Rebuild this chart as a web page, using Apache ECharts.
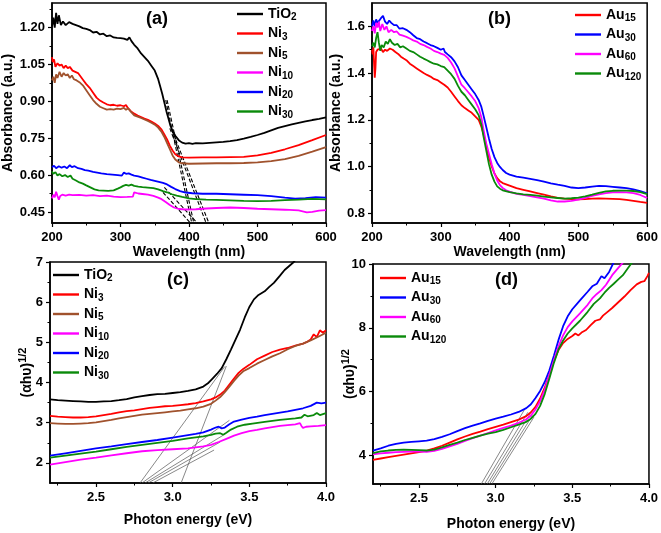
<!DOCTYPE html>
<html><head><meta charset="utf-8">
<script src="https://cdn.jsdelivr.net/npm/echarts@6/dist/echarts.min.js"></script>
<style>html,body{margin:0;padding:0;background:#fff}#c{width:661px;height:533px}</style>
</head><body><div id="c"></div>
<script>
// ---------- Panel (a): absorbance vs wavelength (Ni series) ----------
const aTiO2 = [[200,1.205],[202,1.24],[204,1.20],[206,1.26],[208,1.215],[210,1.25],[213,1.21],[216,1.225],[220,1.21],[225,1.222],[230,1.215],[235,1.21],[240,1.205],[245,1.198],[250,1.195],[255,1.19],[260,1.18],[265,1.183],[270,1.172],[275,1.175],[280,1.165],[285,1.168],[290,1.16],[295,1.158],[300,1.157],[305,1.155],[310,1.15],[313,1.16],[316,1.145],[320,1.13],[325,1.115],[330,1.095],[335,1.08],[340,1.065],[345,1.045],[350,1.025],[355,0.99],[358,0.96],[361,0.93],[364,0.895],[367,0.86],[370,0.83],[373,0.80],[376,0.78],[380,0.76],[385,0.742],[390,0.732],[395,0.728],[400,0.73],[405,0.727],[410,0.73],[420,0.729],[430,0.731],[440,0.733],[450,0.735],[460,0.738],[470,0.742],[480,0.748],[490,0.755],[500,0.763],[510,0.772],[520,0.782],[530,0.792],[540,0.799],[550,0.806],[560,0.812],[570,0.818],[580,0.824],[590,0.829],[600,0.835]];
const aNi3 = [[200,1.08],[201,1.06],[203,1.07],[205,1.04],[208,1.055],[211,1.045],[214,1.05],[217,1.035],[220,1.045],[223,1.035],[226,1.04],[230,1.025],[234,1.02],[238,1.015],[242,1.0],[246,0.985],[250,0.97],[255,0.955],[260,0.935],[265,0.915],[270,0.903],[275,0.895],[280,0.888],[285,0.884],[290,0.886],[295,0.882],[300,0.884],[305,0.88],[308,0.885],[311,0.872],[315,0.86],[320,0.85],[325,0.842],[330,0.836],[335,0.83],[340,0.825],[345,0.818],[350,0.81],[355,0.80],[360,0.785],[364,0.765],[368,0.745],[372,0.72],[376,0.70],[380,0.685],[385,0.676],[390,0.672],[400,0.671],[420,0.672],[440,0.672],[460,0.673],[480,0.674],[500,0.68],[520,0.69],[540,0.705],[560,0.722],[580,0.742],[600,0.763]];
const aNi5 = [[200,0.985],[202,1.0],[204,0.975],[206,1.01],[208,0.995],[211,1.02],[214,1.0],[217,1.015],[220,1.005],[223,1.01],[226,0.995],[229,1.005],[232,0.99],[236,0.985],[240,0.978],[245,0.965],[250,0.945],[255,0.925],[260,0.905],[265,0.89],[270,0.878],[275,0.872],[280,0.866],[285,0.868],[290,0.866],[295,0.87],[300,0.868],[305,0.873],[308,0.865],[311,0.872],[315,0.858],[320,0.843],[325,0.838],[330,0.832],[335,0.826],[340,0.82],[345,0.813],[350,0.805],[355,0.793],[360,0.775],[364,0.755],[368,0.73],[372,0.705],[376,0.68],[380,0.663],[385,0.652],[390,0.648],[400,0.646],[420,0.647],[440,0.648],[460,0.648],[480,0.649],[500,0.652],[520,0.657],[540,0.665],[560,0.678],[580,0.695],[600,0.714]];
const aNi10 = [[200,0.505],[202,0.52],[204,0.51],[206,0.532],[208,0.515],[210,0.50],[212,0.515],[215,0.52],[220,0.516],[225,0.52],[230,0.518],[240,0.519],[250,0.516],[260,0.518],[270,0.514],[280,0.516],[290,0.512],[300,0.51],[310,0.511],[318,0.512],[320,0.53],[322,0.522],[326,0.525],[332,0.523],[340,0.52],[348,0.515],[355,0.508],[360,0.502],[366,0.49],[372,0.478],[378,0.468],[385,0.462],[395,0.46],[410,0.461],[425,0.464],[440,0.466],[460,0.468],[480,0.466],[500,0.463],[520,0.461],[540,0.459],[560,0.456],[572,0.448],[580,0.45],[590,0.455],[600,0.457]];
const aNi20 = [[200,0.632],[203,0.638],[206,0.628],[210,0.636],[214,0.63],[218,0.635],[222,0.628],[226,0.64],[229,0.632],[233,0.636],[238,0.628],[243,0.625],[248,0.62],[253,0.618],[260,0.613],[266,0.61],[272,0.607],[280,0.604],[288,0.602],[296,0.600],[302,0.598],[305,0.61],[308,0.605],[312,0.607],[316,0.602],[320,0.598],[326,0.595],[332,0.59],[338,0.585],[344,0.58],[350,0.576],[356,0.572],[362,0.568],[368,0.562],[374,0.552],[380,0.543],[387,0.535],[395,0.529],[405,0.526],[420,0.524],[440,0.524],[460,0.522],[480,0.52],[500,0.518],[520,0.514],[540,0.508],[555,0.504],[570,0.506],[585,0.51],[600,0.508]];
const aNi30 = [[200,0.615],[202,0.605],[205,0.612],[208,0.598],[211,0.604],[215,0.595],[219,0.60],[223,0.592],[227,0.598],[230,0.585],[235,0.578],[240,0.57],[245,0.565],[250,0.558],[256,0.55],[262,0.542],[268,0.538],[275,0.537],[282,0.536],[290,0.538],[296,0.545],[300,0.55],[304,0.556],[308,0.56],[312,0.557],[316,0.561],[320,0.556],[326,0.553],[332,0.551],[340,0.549],[348,0.547],[355,0.542],[362,0.535],[368,0.53],[375,0.522],[382,0.516],[390,0.511],[400,0.505],[410,0.502],[425,0.5],[440,0.499],[460,0.497],[480,0.495],[500,0.494],[520,0.495],[540,0.498],[560,0.5],[580,0.503],[600,0.501]];
const aTangents = [[[366,0.905],[404,0.405]],[[368,0.905],[407,0.405]],[[372,0.79],[425,0.405]],[[374,0.79],[429,0.405]],[[362,0.53],[402,0.405]],[[364,0.55],[412,0.405]]];
const aXTicks = [200,300,400,500,600];
const aYTicks = [0.45,0.60,0.75,0.90,1.05,1.20];

// ---------- Panel (b): absorbance vs wavelength (Au series) ----------
const bAu15 = [[200,1.50],[201,1.48],[202,1.51],[203,1.44],[204,1.38],[205,1.42],[206,1.49],[208,1.50],[210,1.495],[213,1.505],[216,1.49],[219,1.50],[222,1.495],[226,1.505],[230,1.50],[234,1.49],[238,1.482],[242,1.47],[246,1.462],[250,1.455],[255,1.44],[260,1.43],[265,1.42],[270,1.41],[275,1.4],[280,1.392],[285,1.385],[290,1.375],[295,1.37],[300,1.36],[305,1.35],[310,1.338],[315,1.32],[320,1.3],[325,1.28],[330,1.262],[335,1.25],[340,1.24],[345,1.23],[350,1.215],[355,1.2],[359,1.17],[362,1.14],[366,1.09],[370,1.04],[374,1.0],[378,0.97],[382,0.95],[386,0.937],[390,0.929],[400,0.918],[410,0.907],[420,0.9],[430,0.893],[440,0.886],[450,0.879],[460,0.872],[470,0.866],[480,0.862],[490,0.86],[500,0.859],[510,0.86],[520,0.862],[530,0.863],[540,0.862],[550,0.861],[560,0.86],[570,0.857],[580,0.853],[590,0.848],[600,0.844]];
const bAu30 = [[200,1.60],[202,1.625],[204,1.60],[206,1.63],[208,1.615],[210,1.62],[213,1.635],[216,1.645],[219,1.62],[222,1.61],[225,1.625],[228,1.615],[232,1.605],[236,1.605],[240,1.59],[245,1.592],[250,1.585],[255,1.575],[260,1.562],[265,1.55],[270,1.545],[275,1.535],[280,1.528],[285,1.52],[290,1.515],[295,1.508],[300,1.5],[304,1.505],[306,1.49],[310,1.48],[315,1.468],[320,1.45],[325,1.425],[330,1.39],[335,1.37],[340,1.35],[345,1.33],[350,1.31],[355,1.285],[359,1.255],[362,1.22],[366,1.17],[370,1.12],[374,1.075],[378,1.04],[382,1.015],[386,0.998],[390,0.985],[395,0.972],[400,0.965],[410,0.957],[420,0.952],[430,0.947],[440,0.942],[450,0.935],[460,0.928],[470,0.922],[480,0.917],[490,0.91],[500,0.907],[510,0.91],[520,0.914],[530,0.917],[540,0.916],[550,0.913],[560,0.91],[570,0.907],[580,0.902],[590,0.895],[600,0.885]];
const bAu60 = [[200,1.58],[202,1.60],[204,1.57],[206,1.615],[208,1.595],[210,1.62],[212,1.58],[215,1.61],[218,1.585],[221,1.60],[224,1.575],[228,1.585],[232,1.575],[236,1.578],[240,1.565],[245,1.56],[250,1.555],[255,1.548],[260,1.54],[265,1.535],[270,1.525],[275,1.52],[280,1.512],[285,1.505],[290,1.495],[295,1.49],[300,1.483],[305,1.478],[310,1.465],[315,1.445],[320,1.42],[325,1.385],[330,1.35],[335,1.335],[340,1.318],[345,1.30],[350,1.28],[355,1.25],[359,1.21],[362,1.16],[366,1.10],[370,1.055],[374,1.01],[378,0.97],[382,0.94],[386,0.92],[390,0.908],[395,0.898],[400,0.892],[410,0.883],[420,0.878],[430,0.873],[440,0.868],[450,0.862],[460,0.855],[470,0.85],[480,0.85],[490,0.853],[500,0.858],[510,0.866],[520,0.874],[530,0.881],[540,0.886],[550,0.889],[560,0.89],[570,0.889],[580,0.886],[590,0.878],[600,0.865]];
const bAu120 = [[200,1.515],[202,1.53],[204,1.51],[206,1.55],[208,1.575],[210,1.53],[212,1.495],[214,1.52],[217,1.51],[220,1.535],[223,1.525],[226,1.545],[229,1.53],[233,1.52],[237,1.525],[241,1.51],[245,1.515],[250,1.505],[255,1.495],[260,1.49],[265,1.48],[270,1.47],[275,1.462],[280,1.455],[285,1.447],[290,1.44],[295,1.437],[300,1.43],[305,1.425],[310,1.41],[315,1.395],[320,1.375],[325,1.345],[330,1.32],[335,1.305],[340,1.285],[345,1.265],[350,1.245],[355,1.22],[359,1.18],[362,1.13],[366,1.07],[370,1.01],[374,0.965],[378,0.935],[382,0.915],[386,0.905],[390,0.898],[400,0.89],[410,0.885],[420,0.881],[430,0.878],[440,0.875],[450,0.871],[460,0.868],[470,0.865],[480,0.862],[490,0.864],[500,0.867],[510,0.872],[520,0.879],[530,0.887],[540,0.893],[550,0.896],[560,0.897],[570,0.897],[580,0.895],[590,0.89],[600,0.882]];
const bYTicks = [0.8,1.0,1.2,1.4,1.6];

// ---------- Panel (c): Tauc plot (Ni series) ----------
const cTiO2 = [[2.2,3.58],[2.25,3.56],[2.3,3.55],[2.35,3.54],[2.4,3.53],[2.45,3.52],[2.5,3.52],[2.55,3.53],[2.6,3.54],[2.65,3.56],[2.7,3.59],[2.75,3.63],[2.8,3.66],[2.85,3.69],[2.9,3.71],[2.95,3.72],[3.0,3.74],[3.05,3.76],[3.1,3.79],[3.15,3.83],[3.2,3.9],[3.23,3.98],[3.26,4.1],[3.29,4.22],[3.32,4.36],[3.35,4.58],[3.38,4.82],[3.41,5.07],[3.44,5.32],[3.47,5.62],[3.5,5.88],[3.53,6.07],[3.56,6.18],[3.6,6.27],[3.63,6.38],[3.66,6.48],[3.7,6.66],[3.73,6.8],[3.76,6.9],[3.79,7.0],[3.82,7.15]];
const cNi3 = [[2.2,3.17],[2.25,3.15],[2.3,3.14],[2.35,3.13],[2.4,3.13],[2.45,3.14],[2.5,3.16],[2.55,3.19],[2.6,3.22],[2.65,3.26],[2.7,3.29],[2.75,3.31],[2.8,3.34],[2.85,3.37],[2.9,3.39],[2.95,3.41],[3.0,3.42],[3.05,3.44],[3.1,3.46],[3.15,3.49],[3.2,3.53],[3.25,3.58],[3.28,3.63],[3.31,3.7],[3.34,3.8],[3.37,3.95],[3.4,4.1],[3.43,4.24],[3.46,4.34],[3.5,4.44],[3.55,4.58],[3.6,4.67],[3.65,4.76],[3.7,4.82],[3.75,4.86],[3.8,4.92],[3.85,4.97],[3.88,5.02],[3.9,5.07],[3.92,5.2],[3.94,5.13],[3.96,5.3],[3.98,5.24],[4.0,5.3]];
const cNi5 = [[2.2,2.99],[2.25,2.98],[2.3,2.97],[2.35,2.97],[2.4,2.98],[2.45,2.99],[2.5,3.01],[2.55,3.04],[2.6,3.07],[2.65,3.11],[2.7,3.14],[2.75,3.17],[2.8,3.2],[2.85,3.22],[2.9,3.24],[2.95,3.26],[3.0,3.28],[3.05,3.3],[3.1,3.33],[3.15,3.36],[3.2,3.4],[3.25,3.47],[3.28,3.55],[3.31,3.64],[3.34,3.76],[3.37,3.9],[3.4,4.04],[3.43,4.17],[3.46,4.28],[3.5,4.36],[3.55,4.47],[3.6,4.56],[3.65,4.65],[3.7,4.73],[3.75,4.83],[3.8,4.91],[3.85,4.97],[3.9,5.05],[3.95,5.14],[4.0,5.24]];
const cNi10 = [[2.2,1.96],[2.3,2.02],[2.4,2.08],[2.5,2.13],[2.6,2.19],[2.7,2.24],[2.8,2.29],[2.9,2.32],[3.0,2.34],[3.1,2.36],[3.2,2.41],[3.25,2.45],[3.3,2.52],[3.35,2.6],[3.4,2.68],[3.45,2.74],[3.5,2.79],[3.55,2.82],[3.6,2.86],[3.65,2.89],[3.7,2.92],[3.75,2.94],[3.8,2.96],[3.83,2.99],[3.84,2.92],[3.85,2.87],[3.87,2.9],[3.9,2.91],[3.95,2.92],[4.0,2.94]];
const cNi20 = [[2.2,2.18],[2.3,2.24],[2.4,2.3],[2.5,2.36],[2.6,2.41],[2.7,2.47],[2.8,2.52],[2.9,2.57],[3.0,2.63],[3.1,2.69],[3.15,2.72],[3.2,2.76],[3.25,2.83],[3.28,2.88],[3.3,2.9],[3.32,2.86],[3.34,2.88],[3.37,2.96],[3.4,3.03],[3.45,3.08],[3.5,3.12],[3.55,3.15],[3.6,3.19],[3.65,3.22],[3.7,3.25],[3.75,3.28],[3.8,3.32],[3.85,3.36],[3.9,3.42],[3.94,3.5],[3.97,3.48],[4.0,3.5]];
const cNi30 = [[2.2,2.13],[2.3,2.18],[2.4,2.23],[2.5,2.28],[2.6,2.34],[2.7,2.4],[2.8,2.45],[2.9,2.5],[3.0,2.55],[3.1,2.61],[3.2,2.66],[3.25,2.7],[3.28,2.73],[3.31,2.74],[3.33,2.7],[3.35,2.75],[3.38,2.83],[3.42,2.9],[3.47,2.95],[3.52,2.98],[3.6,3.02],[3.7,3.07],[3.8,3.11],[3.84,3.13],[3.86,3.2],[3.88,3.16],[3.92,3.19],[3.94,3.24],[3.96,3.19],[4.0,3.24]];
const cTangents = [[[2.787,1.5],[3.34,4.4]],[[3.055,1.5],[3.35,4.41]],[[2.80,1.5],[3.37,3.06]],[[2.82,1.5],[3.33,2.69]],[[2.84,1.5],[3.31,2.52]],[[2.87,1.5],[3.27,2.32]]];
const eXTicks = [2.5,3.0,3.5,4.0];
const cYTicks = [2,3,4,5,6,7];

// ---------- Panel (d): Tauc plot (Au series) ----------
const dAu15 = [[2.2,3.86],[2.25,3.9],[2.3,3.94],[2.35,3.98],[2.4,4.02],[2.45,4.06],[2.5,4.1],[2.55,4.15],[2.6,4.22],[2.65,4.3],[2.7,4.4],[2.75,4.5],[2.8,4.59],[2.85,4.67],[2.9,4.74],[2.95,4.82],[3.0,4.89],[3.05,4.96],[3.1,5.04],[3.15,5.12],[3.2,5.23],[3.23,5.35],[3.26,5.52],[3.29,5.78],[3.32,6.12],[3.35,6.52],[3.38,6.96],[3.41,7.3],[3.44,7.52],[3.47,7.65],[3.5,7.74],[3.52,7.82],[3.54,7.76],[3.56,7.85],[3.59,7.93],[3.62,8.08],[3.65,8.22],[3.68,8.26],[3.7,8.38],[3.73,8.5],[3.76,8.62],[3.8,8.8],[3.84,8.98],[3.88,9.18],[3.92,9.36],[3.95,9.44],[3.97,9.46],[3.99,9.62],[4.0,9.72]];
const dAu30 = [[2.2,4.15],[2.25,4.22],[2.3,4.3],[2.35,4.36],[2.4,4.4],[2.45,4.42],[2.5,4.44],[2.55,4.46],[2.6,4.51],[2.65,4.58],[2.7,4.66],[2.75,4.76],[2.8,4.85],[2.85,4.93],[2.9,5.0],[2.95,5.08],[3.0,5.15],[3.05,5.21],[3.1,5.28],[3.15,5.36],[3.2,5.48],[3.23,5.6],[3.26,5.8],[3.29,6.02],[3.32,6.3],[3.35,6.66],[3.38,7.12],[3.41,7.62],[3.44,8.05],[3.47,8.36],[3.5,8.58],[3.55,8.86],[3.6,9.13],[3.63,9.3],[3.66,9.38],[3.69,9.62],[3.71,9.55],[3.74,9.75],[3.77,10.05]];
const dAu60 = [[2.2,4.03],[2.25,4.06],[2.3,4.08],[2.35,4.1],[2.4,4.11],[2.45,4.12],[2.5,4.12],[2.55,4.11],[2.6,4.14],[2.65,4.2],[2.7,4.28],[2.75,4.36],[2.8,4.45],[2.85,4.54],[2.9,4.62],[2.95,4.7],[3.0,4.78],[3.05,4.86],[3.1,4.93],[3.15,5.02],[3.2,5.13],[3.23,5.25],[3.26,5.44],[3.29,5.7],[3.32,6.05],[3.35,6.52],[3.38,6.98],[3.41,7.42],[3.44,7.76],[3.47,8.02],[3.5,8.2],[3.55,8.45],[3.6,8.72],[3.63,8.92],[3.66,9.06],[3.69,9.18],[3.72,9.35],[3.76,9.65],[3.8,9.88],[3.84,10.1]];
const dAu120 = [[2.2,4.07],[2.25,4.12],[2.3,4.15],[2.35,4.17],[2.4,4.18],[2.45,4.17],[2.5,4.16],[2.55,4.15],[2.6,4.18],[2.65,4.25],[2.7,4.33],[2.75,4.4],[2.8,4.48],[2.85,4.55],[2.9,4.62],[2.95,4.68],[3.0,4.73],[3.05,4.8],[3.1,4.88],[3.15,4.96],[3.2,5.05],[3.23,5.15],[3.26,5.3],[3.29,5.55],[3.32,5.92],[3.35,6.4],[3.38,6.9],[3.41,7.32],[3.44,7.6],[3.47,7.82],[3.5,7.98],[3.55,8.22],[3.6,8.5],[3.64,8.75],[3.68,8.92],[3.71,9.1],[3.74,9.25],[3.77,9.38],[3.8,9.52],[3.83,9.65],[3.86,9.85],[3.89,10.05]];
const dTangents = [[[2.906,3.1],[3.19,5.45]],[[2.927,3.1],[3.21,5.35]],[[2.945,3.1],[3.225,5.3]],[[2.96,3.1],[3.24,5.25]],[[2.975,3.1],[3.25,5.2]]];
const dYTicks = [4,6,8,10];

// ---------- styling ----------
const FF = 'Liberation Sans, Arial, sans-serif';
const C = {black:'#000000', red:'#ff0000', brown:'#a0522d', mag:'#ff00ff', blue:'#0000ff', green:'#0a8a0a'};
const grids = [
  {left:50, top:3, width:276, height:220},
  {left:372, top:3, width:277, height:220},
  {left:50, top:262, width:276, height:221},
  {left:373, top:264, width:277, height:220}
];
const ranges = [
  {x:[200,600], y:[0.405,1.30], xt:aXTicks, yt:aYTicks, xf:v=>String(v), yf:v=>v.toFixed(2)},
  {x:[200,600], y:[0.758,1.70], xt:aXTicks, yt:bYTicks, xf:v=>String(v), yf:v=>v.toFixed(1)},
  {x:[2.2,4.0], y:[1.5,7.0], xt:eXTicks, yt:cYTicks, xf:v=>v.toFixed(1), yf:v=>String(v)},
  {x:[2.2,4.0], y:[3.1,10], xt:eXTicks, yt:dYTicks, xf:v=>v.toFixed(1), yf:v=>String(v)}
];
const mids = arr => { const out=[]; const step=arr[1]-arr[0]; for (let i=0;i<arr.length;i++){ out.push(+(arr[i]-step/2).toFixed(4)); } out.push(+(arr[arr.length-1]+step/2).toFixed(4)); return out; };

const axisNameStyle = {fontFamily:FF, fontWeight:'bold', fontSize:14, color:'#000',
  rich:{m:{fontFamily:FF, fontWeight:'bold', fontSize:14, color:'#000'},
        p:{fontFamily:FF, fontWeight:'bold', fontSize:11, color:'#000', padding:[0,0,9,0]}}};
const xNames = ['Wavelength (nm)','Wavelength (nm)','Photon energy (eV)','Photon energy (eV)'];
const xGaps = [22,22,30,33];
const yNames = ['Absorbance (a.u.)','Absorbance (a.u.)','{m|(\u03b1h\u03c5)}{p|1/2}','{m|(\u03b1h\u03c5)}{p|1/2}'];
const yGaps = [37,29,13,13];

const xAxis = [], yAxis = [];
for (let i=0;i<4;i++){
  const r = ranges[i];
  xAxis.push({type:'value', gridIndex:i, min:r.x[0], max:r.x[1], position:'bottom',
    axisLine:{show:true, onZero:false, lineStyle:{color:'#000', width:1.5}},
    axisTick:{show:true, length:4, customValues:r.xt, lineStyle:{color:'#000', width:1.2}},
    axisLabel:{customValues:r.xt, formatter:r.xf, fontFamily:FF, fontWeight:'bold', fontSize:13, color:'#000', margin:8},
    splitLine:{show:false}, nameMoveOverlap:false,
    name:xNames[i], nameLocation:'middle', nameGap:xGaps[i], nameTextStyle:axisNameStyle});
  yAxis.push({type:'value', gridIndex:i, min:r.y[0], max:r.y[1], position:'left',
    axisLine:{show:true, onZero:false, lineStyle:{color:'#000', width:1.5}},
    axisTick:{show:true, length:4, customValues:r.yt, lineStyle:{color:'#000', width:1.2}},
    axisLabel:{customValues:r.yt, formatter:r.yf, fontFamily:FF, fontWeight:'bold', fontSize:13, color:'#000', margin:7},
    splitLine:{show:false}, nameMoveOverlap:false,
    name:yNames[i], nameLocation:'middle', nameGap:yGaps[i], nameRotate:90, nameTextStyle:axisNameStyle});
}
// minor tick axes
for (let i=0;i<4;i++){
  const r = ranges[i];
  const mx = mids(r.xt).filter(v=>v>r.x[0] && v<r.x[1]);
  const my = mids(r.yt).filter(v=>v>r.y[0] && v<r.y[1]);
  xAxis.push({type:'value', gridIndex:i, min:r.x[0], max:r.x[1], position:'bottom',
    axisLine:{show:false}, axisLabel:{show:false}, splitLine:{show:false},
    axisTick:{show:true, length:2.5, customValues:mx, lineStyle:{color:'#000', width:1}}});
  yAxis.push({type:'value', gridIndex:i, min:r.y[0], max:r.y[1], position:'left', offset:0,
    axisLine:{show:false}, axisLabel:{show:false}, splitLine:{show:false},
    axisTick:{show:true, length:2.5, customValues:my, lineStyle:{color:'#000', width:1}}});
}

const series = [];
function addLine(name, data, color, gi){
  series.push({type:'line', name:name, data:data, xAxisIndex:gi, yAxisIndex:gi, symbol:'none',
    lineStyle:{color:color, width:1.8}, itemStyle:{color:color}, clip:true, silent:true});
}
function addTangents(list, gi, style){
  list.forEach(seg => series.push({type:'line', data:seg, xAxisIndex:gi, yAxisIndex:gi, symbol:'none',
    lineStyle:style, clip:true, silent:true, z:1}));
}
addTangents(aTangents, 0, {color:'#000', width:1.1, type:[4,2]});
addLine('a|TiO|2', aTiO2, C.black, 0);
addLine('a|Ni|3', aNi3, C.red, 0);
addLine('a|Ni|5', aNi5, C.brown, 0);
addLine('a|Ni|10', aNi10, C.mag, 0);
addLine('a|Ni|20', aNi20, C.blue, 0);
addLine('a|Ni|30', aNi30, C.green, 0);
addLine('b|Au|15', bAu15, C.red, 1);
addLine('b|Au|30', bAu30, C.blue, 1);
addLine('b|Au|60', bAu60, C.mag, 1);
addLine('b|Au|120', bAu120, C.green, 1);
addTangents(cTangents, 2, {color:'#555', width:0.7});
addLine('c|TiO|2', cTiO2, C.black, 2);
addLine('c|Ni|3', cNi3, C.red, 2);
addLine('c|Ni|5', cNi5, C.brown, 2);
addLine('c|Ni|10', cNi10, C.mag, 2);
addLine('c|Ni|20', cNi20, C.blue, 2);
addLine('c|Ni|30', cNi30, C.green, 2);
addTangents(dTangents, 3, {color:'#555', width:0.7});
addLine('d|Au|15', dAu15, C.red, 3);
addLine('d|Au|30', dAu30, C.blue, 3);
addLine('d|Au|60', dAu60, C.mag, 3);
addLine('d|Au|120', dAu120, C.green, 3);

const legRich = {m:{fontFamily:FF, fontWeight:'bold', fontSize:14, color:'#000'},
                 s:{fontFamily:FF, fontWeight:'bold', fontSize:10, color:'#000', padding:[7,0,0,0]}};
function legend(prefix, left, top){
  return {orient:'vertical', left:left, top:top, itemWidth:26, itemHeight:10, itemGap:4, padding:0,
    icon:'rect', selectedMode:false,
    data: series.filter(s=>s.name && s.name.startsWith(prefix+'|')).map(s=>({name:s.name, icon:'path://M0,3.8L26,3.8L26,6.2L0,6.2Z'})),
    formatter: n => { const p=n.split('|'); return '{m|'+p[1]+'}{s|'+p[2]+'}'; },
    textStyle:{rich:legRich, padding:[0,0,0,0]}};
}

const chart = echarts.init(document.getElementById('c'), null, {renderer:'canvas'});
chart.setOption({
  animation:false, backgroundColor:'#fff',
  grid: grids.map(g=>Object.assign({show:true, borderColor:'#000', borderWidth:1.5, backgroundColor:'transparent', containLabel:false}, g)),
  xAxis:xAxis, yAxis:yAxis, series:series,
  legend:[legend('a',237,7), legend('b',575,8), legend('c',53,268), legend('d',380,271)],
  graphic:[
    {type:'text', left:146, top:10, style:{text:'(a)', font:'bold 18px '+FF, fill:'#000'}},
    {type:'text', left:488, top:10, style:{text:'(b)', font:'bold 18px '+FF, fill:'#000'}},
    {type:'text', left:167, top:271, style:{text:'(c)', font:'bold 18px '+FF, fill:'#000'}},
    {type:'text', left:495, top:271, style:{text:'(d)', font:'bold 18px '+FF, fill:'#000'}}
  ]
});
</script></body></html>
